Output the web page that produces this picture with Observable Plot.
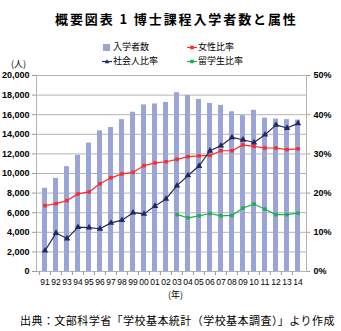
<!DOCTYPE html>
<html><head><meta charset="utf-8">
<script src="https://cdn.jsdelivr.net/npm/d3@7"></script>
<script src="https://cdn.jsdelivr.net/npm/@observablehq/plot@0.6"></script>
<style>
body{margin:0;background:#fff;}
#wrap{position:relative;width:341px;height:331px;overflow:hidden;font-family:"Liberation Sans","Noto Sans CJK JP",sans-serif;color:#000;}
#wrap svg{position:absolute;left:0;top:0;}
.abs{position:absolute;white-space:nowrap;}
#title{left:55px;top:10px;font-family:"Noto Sans CJK JP",sans-serif;font-weight:bold;font-size:13px;letter-spacing:1.9px;line-height:18px;}
.leg{font-family:"Noto Sans CJK JP",sans-serif;font-size:9px;line-height:12px;display:flex;align-items:center;}
.leg svg{position:static !important;margin-right:1px;}
#unit{left:11px;top:58px;font-family:"Noto Sans CJK JP",sans-serif;font-size:9px;line-height:11px;}
#nen{left:168px;top:289px;font-family:"Noto Sans CJK JP",sans-serif;font-size:9px;line-height:12px;}
#cap{left:20px;top:312px;font-family:"Noto Sans CJK JP",sans-serif;font-size:11px;letter-spacing:0.45px;line-height:16px;}
</style></head>
<body>
<div id="wrap"></div>
<script>
const years = ["91","92","93","94","95","96","97","98","99","00","01","02","03","04","05","06","07","08","09","10","11","12","13","14"];
const enrollment = [8500, 9500, 10700, 11850, 13100, 14350, 14700, 15500, 16250, 17000, 17100, 17250, 18250, 17950, 17550, 17150, 16950, 16300, 15900, 16450, 15650, 15550, 15500, 15450];
const femaleRatio = [16.8, 17.3, 18.1, 19.8, 20.3, 22.4, 23.9, 24.9, 25.3, 27.0, 27.7, 28.0, 28.6, 29.3, 29.5, 29.6, 30.8, 30.8, 32.3, 31.9, 31.5, 31.5, 31.1, 31.3];
const workingRatio = [5.3, 9.8, 8.4, 11.3, 11.2, 10.9, 12.4, 13.1, 15.0, 14.7, 16.7, 18.5, 21.9, 24.5, 26.9, 30.8, 32.1, 34.2, 33.6, 32.9, 34.9, 37.4, 36.6, 37.8];
const intlRatio = [null, null, null, null, null, null, null, null, null, null, null, null, 14.5, 13.7, 14.2, 14.8, 14.2, 14.3, 16.2, 17.2, 15.9, 14.5, 14.5, 14.9];
const leftTicks = [0, 2000, 4000, 6000, 8000, 10000, 12000, 14000, 16000, 18000, 20000];
const rightTicks = [0, 10, 20, 30, 40, 50];
const seriesNames = ["入学者数", "女性比率", "社会人比率", "留学生比率"];
const colors = {bar: "#9ba4d6", female: "#ff2a2a", working: "#1f2b5e", intl: "#1fae4b"};

const pctToCount = 20000 / 50;
const barData = years.map((y, i) => ({year: y, value: enrollment[i]}));
const mk = arr => years.map((y, i) => ({year: y, pct: arr[i]})).filter(d => d.pct != null);
const fem = mk(femaleRatio), work = mk(workingRatio), intl = mk(intlRatio);
const yPct = d => d.pct * pctToCount;

const chart = Plot.plot({
  width: 341, height: 300,
  marginLeft: 36, marginRight: 35, marginTop: 75, marginBottom: 29,
  style: {fontSize: "9px", fontFamily: "Liberation Sans, sans-serif", background: "transparent", color: "#000"},
  x: {type: "band", domain: years, paddingInner: 0.56, paddingOuter: 0.28, axis: null, label: null},
  y: {domain: [0, 20000], axis: null, label: null},
  marks: [
    Plot.gridY({ticks: leftTicks, stroke: "#b4b4b4", strokeOpacity: 1}),
    Plot.barY(barData, {x: "year", y: "value", fill: colors.bar}),
    Plot.frame({stroke: "#b4b4b4"}),
    Plot.axisY({anchor: "left", ticks: leftTicks, tickFormat: d3.format(","), tickSize: 4, tickPadding: 3, stroke: "#999", fill: "#000", fontWeight: "bold", label: null}),
    Plot.axisY({anchor: "right", ticks: rightTicks.map(v => v * pctToCount), tickFormat: d => Math.round(d / pctToCount) + "%", tickSize: 3, tickPadding: 4, stroke: "#999", fill: "#000", fontWeight: "bold", label: null}),
    Plot.axisX({anchor: "bottom", tickSize: 0, tickPadding: 7, fontSize: 8.5, label: null}),
    Plot.axisX({anchor: "bottom", tickSize: 4, tickFormat: () => "", dx: -5.625, stroke: "#999", label: null}),
    Plot.lineY(fem, {x: "year", y: yPct, stroke: colors.female, strokeWidth: 1.2}),
    Plot.dot(fem, {x: "year", y: yPct, symbol: "square", r: 2, fill: colors.female}),
    Plot.lineY(work, {x: "year", y: yPct, stroke: colors.working, strokeWidth: 1.2}),
    Plot.dot(work, {x: "year", y: yPct, symbol: "triangle", r: 2.4, fill: colors.working}),
    Plot.lineY(intl, {x: "year", y: yPct, stroke: colors.intl, strokeWidth: 1.2}),
    Plot.dot(intl, {x: "year", y: yPct, symbol: "square", r: 2, fill: colors.intl})
  ]
});

const wrap = document.getElementById("wrap");
wrap.appendChild(chart);

function addDiv(id, cls, text) {
  const d = document.createElement("div");
  if (id) d.id = id;
  d.className = cls;
  d.textContent = text;
  wrap.appendChild(d);
  return d;
}
addDiv("title", "abs", "概要図表 1 博士課程入学者数と属性");
addDiv("unit", "abs", "(人)");
addDiv("nen", "abs", "(年)");
addDiv("cap", "abs", "出典：文部科学省「学校基本統計（学校基本調査）」より作成");

const legendItems = [
  {name: seriesNames[0], color: colors.bar, type: "box", x: 102, y: 41},
  {name: seriesNames[1], color: colors.female, type: "square", x: 187, y: 41},
  {name: seriesNames[2], color: colors.working, type: "triangle", x: 102, y: 55},
  {name: seriesNames[3], color: colors.intl, type: "square", x: 187, y: 55}
];
for (const it of legendItems) {
  const d = document.createElement("div");
  d.className = "abs leg";
  d.style.left = it.x + "px";
  d.style.top = it.y + "px";
  let sym;
  if (it.type === "box") sym = `<rect x="1" y="2" width="7" height="7" fill="${it.color}"/>`;
  else if (it.type === "square") sym = `<line x1="0" x2="10" y1="5.5" y2="5.5" stroke="${it.color}" stroke-width="1.2"/><rect x="3.2" y="3.7" width="3.6" height="3.6" fill="${it.color}"/>`;
  else sym = `<line x1="0" x2="10" y1="5.5" y2="5.5" stroke="${it.color}" stroke-width="1.2"/><path d="M5,3.2 L7.3,7.2 L2.7,7.2 Z" fill="${it.color}"/>`;
  d.innerHTML = `<svg width="10" height="11" viewBox="0 0 10 11">${sym}</svg><span>${it.name}</span>`;
  wrap.appendChild(d);
}
</script>
</body></html>
